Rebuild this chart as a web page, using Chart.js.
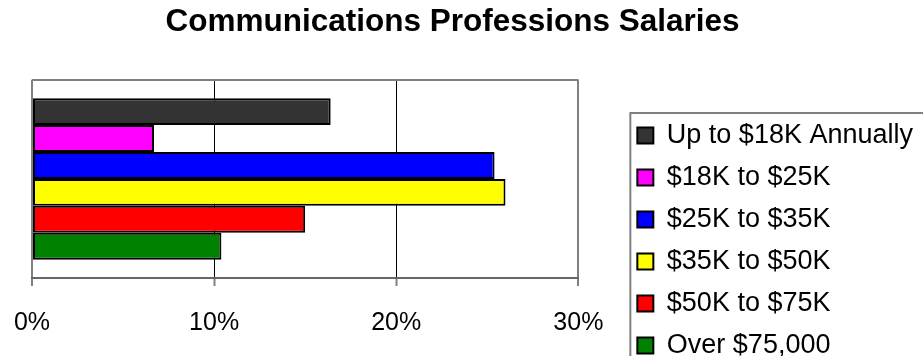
<!DOCTYPE html>
<html lang="en">
  <head>
    <meta charset="UTF-8" />
    <title>Communications Professions Salaries</title>
    <script src="https://cdn.jsdelivr.net/npm/chart.js"></script>
    <style>
      html, body { margin: 0; overflow: hidden; background: #fff; }
      /* legend box runs off the right and bottom edges */
      #wrap { position: relative; width: 941px; height: 374px; margin-left: -18px; }
    </style>
  </head>
  <body>
    <div id="wrap"><canvas id="salaries"></canvas></div>
    <script>
      const categories = ["Communications"];
      const bands = [
        "Up to $18K Annually",
        "$18K to $25K",
        "$25K to $35K",
        "$35K to $50K",
        "$50K to $75K",
        "Over $75,000",
      ];
      const shares = [16.4, 6.7, 25.4, 26.0, 15.0, 10.4];
      const colors = ["#333333", "#ff00ff", "#0000ff", "#ffff00", "#ff0000", "#008000"];
      const tickLabels = ["0%", "10%", "20%", "30%"];

      Chart.defaults.font.family = "'Liberation Sans', Arial, sans-serif";
      Chart.defaults.color = "#000";

      // grey frame around the legend
      const legendFrame = {
        id: "legendFrame",
        afterDraw(chart) {
          const lg = chart.legend;
          const ctx = chart.ctx;
          const pad = lg.options.labels.padding;
          ctx.save();
          ctx.strokeStyle = "#808080";
          ctx.lineWidth = 2;
          ctx.strokeRect(lg.left + pad - 7, lg.bottom - lg.columnSizes[0].height - 9, 400, 400);
          ctx.restore();
        },
      };

      const edge = (c) => c.tick && (c.tick.value === 0 || c.tick.value === 30);

      new Chart(document.getElementById("salaries"), {
        type: "bar",
        data: {
          labels: categories,
          datasets: bands.map((b, i) => ({
            label: b,
            data: [shares[i]],
            backgroundColor: colors[i],
            borderColor: "#000",
            borderWidth: 2,
            borderSkipped: false,
            categoryPercentage: 0.815,
            barPercentage: 1,
          })),
        },
        options: {
          indexAxis: "y",
          responsive: true,
          maintainAspectRatio: false,
          animation: false,
          scales: {
            x: {
              min: 0,
              max: 30,
              ticks: {
                stepSize: 10,
                padding: 22,
                font: { size: 25 },
                callback: (v, i) => tickLabels[i],
              },
              grid: {
                color: (c) => (edge(c) ? "#808080" : "#000"),
                lineWidth: (c) => (edge(c) ? 2 : 1),
                tickColor: "#808080",
                tickWidth: 2,
                tickLength: 8,
              },
              border: { color: "#666", width: 2 },
              afterFit: (s) => { s.height = 96; },
            },
            y: {
              ticks: { display: false },
              grid: { color: "#808080", lineWidth: 2, drawTicks: false },
              border: { display: false },
              afterFit: (s) => { s.width = 50; },
            },
            yr: {
              type: "category",
              position: "right",
              ticks: { display: false },
              grid: { display: false, drawTicks: false },
              border: { display: false },
              afterFit: (s) => { s.width = 44; },
            },
          },
          plugins: {
            tooltip: { enabled: false },
            title: {
              display: true,
              text: "Communications Professions Salaries",
              font: { size: 31.5, weight: "bold" },
              padding: { top: 3, bottom: 39 },
            },
            legend: {
              position: "right",
              align: "end",
              maxWidth: 400,
              labels: {
                boxWidth: 16,
                boxHeight: 16,
                padding: 15,
                font: { size: 27 },
              },
            },
          },
        },
        plugins: [legendFrame],
      });
    </script>
  </body>
</html>
